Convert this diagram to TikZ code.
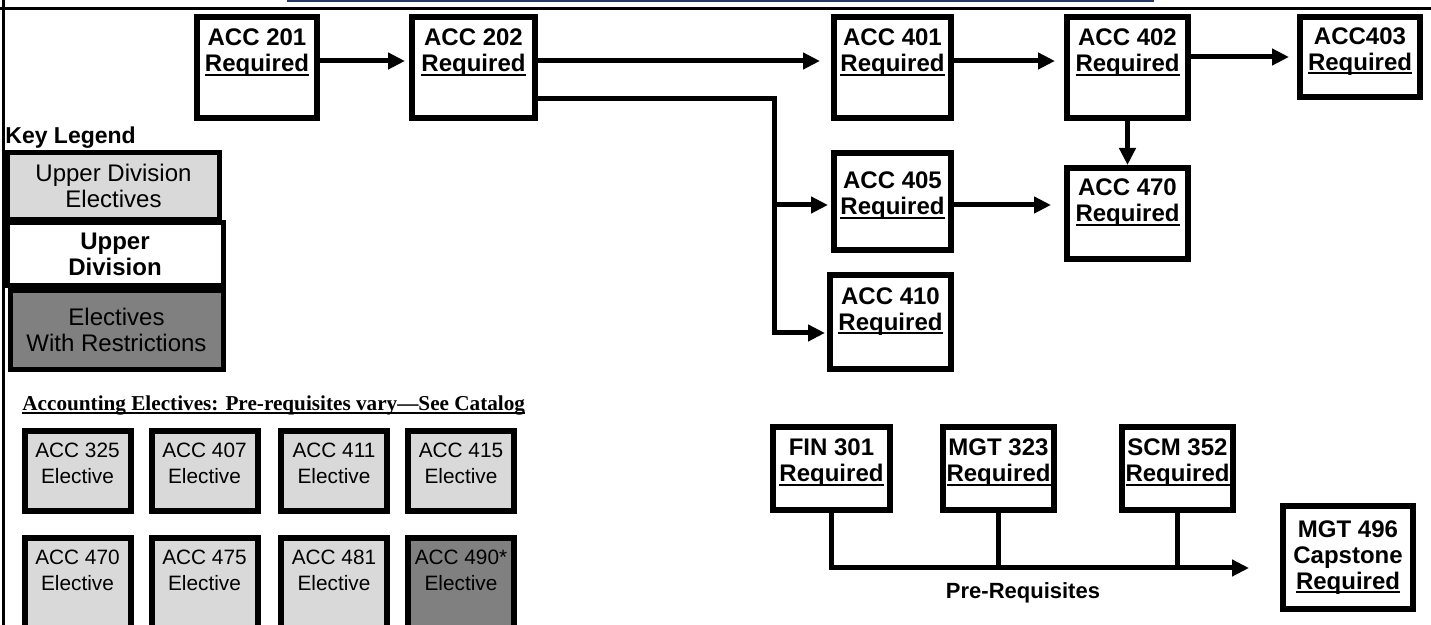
\documentclass[tikz,border=0pt]{standalone}
\usepackage{fontspec}
\setmainfont{Liberation Sans}
\newfontfamily\timesbf{Liberation Serif}
\usetikzlibrary{arrows.meta}
\definecolor{electivefill}{HTML}{D9D9D9}
\definecolor{restrictfill}{HTML}{808080}
\definecolor{rulenavy}{HTML}{1F3864}
% thick underline close to the baseline
\newcommand{\thickul}[1]{\setbox0\hbox{#1}\rlap{\rule[-2pt]{\wd0}{1pt}}\box0}
\newcommand{\reqd}{\thickul{Required}}
\tikzset{
        x=0.5pt, y=-0.5pt,
        every node/.style={font=\fontsize{12}{13}\selectfont},
        required/.style={draw=black, line width=3pt, fill=white, inner sep=0pt, align=center, font=\fontsize{12}{13}\selectfont\bfseries},
        topreq/.style={required, minimum width=60pt, minimum height=50.5pt},
        elective/.style={draw=black, line width=3pt, fill=electivefill, inner sep=0pt, align=center, minimum width=53pt, minimum height=40pt, font=\fontsize{10.4}{13}\selectfont},
        restricted/.style={elective, fill=restrictfill},
        legendbox/.style={draw=black, line width=2.5pt, inner sep=0pt, align=center},
        wire/.style={line width=2.5pt},
        arrowline/.style={wire, -{Triangle[length=8.5pt, width=8pt]}},
        pagerule/.style={line width=1.5pt},
          }
\begin{document}
\begin{tikzpicture}
  \useasboundingbox (0,0) rectangle (1431,625);
  % page rules
  \draw[pagerule] (3.5,0) -- (3.5,625);
  \draw[pagerule] (0,8.5) -- (1431,8.5);
  \draw[rulenavy, line width=1pt] (287,1) -- (1154,1);

  % required accounting sequence
  \node[topreq] (a201) at (257,67.5) {ACC 201\\\reqd\\[4pt]\mbox{}};
  \node[topreq, minimum width=61.5pt] (a202) at (473.5,67.5) {ACC 202\\\reqd\\[4pt]\mbox{}};
  \node[topreq, minimum width=58.5pt] (a401) at (892.5,67.5) {ACC 401\\\reqd\\[4pt]\mbox{}};
  \node[topreq, minimum width=60.5pt] (a402) at (1127.5,67.5) {ACC 402\\\reqd\\[4pt]\mbox{}};
  \node[required, minimum width=60pt, minimum height=40pt] (a403) at (1360,57) {ACC403\\\reqd\\[-5pt]\mbox{}};
  \node[required, minimum width=58.5pt, minimum height=48.5pt] (a405) at (892.5,201.5) {ACC 405\\\reqd\\[-5pt]\mbox{}};
  \node[required, minimum width=60.5pt, minimum height=45.5pt] (a470) at (1127.5,213.5) {ACC 470\\\reqd\\\mbox{}};
  \node[required, minimum width=60.5pt, minimum height=47pt] (a410) at (890.5,322) {ACC 410\\\reqd\\\mbox{}};

  \coordinate (row) at (0,61);
  \coordinate (split) at (774,99);
  \coordinate (mid) at (774,205);
  \draw[arrowline, shorten >=2pt] (a201.east |- row) -- (a202.west |- row);
  \draw[arrowline, shorten >=5.5pt] (a202.east |- row) -- (a401.west |- row);
  \draw[arrowline, shorten >=4.5pt] (a401.east |- row) -- (a402.west |- row);
  \draw[arrowline, shorten >=4pt] (a402.east |- a403) -- (a403);
  \draw[arrowline] (a402) -- (a470);
  \draw[arrowline, shorten >=6.5pt] (a405.east |- mid) -- (a470.west |- mid);
  \draw[arrowline, shorten >=1pt] (a202.east |- split) -- (split) |- ([yshift=-5.5pt]a410.west);
  \draw[arrowline, shorten >=1.5pt] (mid) -- (a405.west |- mid);

  % key legend
  \node[anchor=west, inner sep=0pt, font=\fontsize{11.5}{13}\selectfont\bfseries] (key) at (5,138) {Key Legend};
  \node[legendbox, fill=electivefill, minimum width=106pt, minimum height=33.5pt] (upper) at (113.5,186) {Upper Division\\Electives};
  \node[legendbox, fill=white, minimum width=108pt, minimum height=31.5pt, font=\fontsize{12}{13}\selectfont\bfseries] (upperreq) at (115,254) {Upper\\Division};
  \node[legendbox, fill=restrictfill, minimum width=106.5pt, minimum height=39.5pt] (restr) at (116.5,330) {Electives\\With Restrictions};

  % electives
  \node[anchor=west, inner sep=0pt, font=\timesbf\bfseries\fontsize{10.6}{12}\selectfont] (etitle) at (22,405) {\thickul{Accounting Electives: Pre-requisites vary—See Catalog}};
  \node[elective] (e325) at (77.5,471) {ACC 325\\Elective\\[-5pt]\mbox{}};
  \node[elective] (e407) at (204.5,471) {ACC 407\\Elective\\[-5pt]\mbox{}};
  \node[elective] (e411) at (334,471) {ACC 411\\Elective\\[-5pt]\mbox{}};
  \node[elective] (e415) at (461,471) {ACC 415\\Elective\\[-5pt]\mbox{}};
  \node[elective, minimum height=45pt] (e470) at (77.5,583) {ACC 470\\Elective\\\mbox{}};
  \node[elective, minimum height=45pt] (e475) at (204.5,583) {ACC 475\\Elective\\\mbox{}};
  \node[elective, minimum height=45pt] (e481) at (334,583) {ACC 481\\Elective\\\mbox{}};
  \node[restricted, minimum height=45pt] (e490) at (461,583) {ACC 490*\\Elective\\\mbox{}};

  % pre-requisites and capstone
  \node[required, minimum width=58.5pt, minimum height=41.5pt] (fin) at (831.5,468.5) {FIN 301\\\reqd\\[-5pt]\mbox{}};
  \node[required, minimum width=55.5pt, minimum height=41.5pt] (mgt) at (998.5,468.5) {MGT 323\\\reqd\\[-5pt]\mbox{}};
  \node[required, minimum width=55.5pt, minimum height=41.5pt] (scm) at (1177.5,468.5) {SCM 352\\\reqd\\[-5pt]\mbox{}};
  \node[required, minimum width=65pt, minimum height=51.5pt] (cap) at (1348,557.5) {MGT 496\\Capstone\\\reqd};
  \coordinate (bus) at (1249,568);
  \draw[arrowline] (fin) |- (bus);
  \draw[wire] (mgt) -- (mgt |- bus);
  \draw[wire] (scm) -- (scm |- bus);
  \node[font=\fontsize{11}{13}\selectfont\bfseries] (preq) at (1023,593) {Pre-Requisites};
\end{tikzpicture}
\end{document}
